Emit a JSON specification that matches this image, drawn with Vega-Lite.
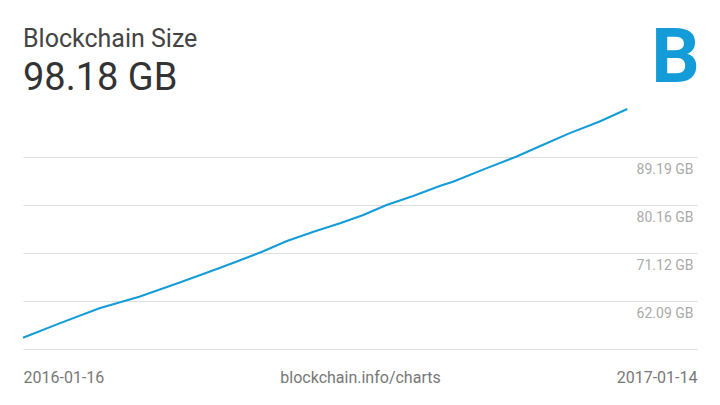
{
  "$schema": "https://vega.github.io/schema/vega-lite/v6.json",
  "autosize": {"type": "none"},
  "width": 674,
  "height": 240,
  "padding": {"left": 23, "right": 23, "top": 109, "bottom": 56},
  "background": "white",
  "config": {"view": {"stroke": null}},
  "title": {
    "text": "Blockchain Size",
    "subtitle": "98.18 GB",
    "anchor": "start",
    "frame": "group",
    "font": "Roboto",
    "fontSize": 25,
    "fontWeight": "normal",
    "color": "#444444",
    "subtitleFont": "Roboto",
    "subtitleFontSize": 38,
    "subtitleColor": "#333333",
    "subtitlePadding": 8,
    "offset": -77
  },
  "layer": [
    {
      "data": {
        "values": [
          {"date": "2016-01-16", "size": 55.18},
          {"date": "2016-02-07", "size": 57.89},
          {"date": "2016-03-02", "size": 60.71},
          {"date": "2016-03-26", "size": 62.89},
          {"date": "2016-04-19", "size": 65.52},
          {"date": "2016-05-13", "size": 68.23},
          {"date": "2016-05-25", "size": 69.66},
          {"date": "2016-06-08", "size": 71.35},
          {"date": "2016-06-23", "size": 73.36},
          {"date": "2016-07-09", "size": 75.11},
          {"date": "2016-07-25", "size": 76.69},
          {"date": "2016-08-08", "size": 78.25},
          {"date": "2016-08-22", "size": 80.13},
          {"date": "2016-09-07", "size": 81.82},
          {"date": "2016-09-23", "size": 83.70},
          {"date": "2016-10-01", "size": 84.51},
          {"date": "2016-10-21", "size": 87.03},
          {"date": "2016-11-08", "size": 89.21},
          {"date": "2016-11-24", "size": 91.41},
          {"date": "2016-12-10", "size": 93.61},
          {"date": "2016-12-28", "size": 95.79},
          {"date": "2017-01-14", "size": 98.18}
        ]
      },
      "mark": {"type": "line", "color": "#139cd8", "strokeWidth": 2},
      "encoding": {
        "x": {
          "field": "date",
          "type": "temporal",
          "scale": {
            "type": "utc",
            "domain": [
              {"year": 2016, "month": 1, "date": 16, "utc": true},
              {"year": 2017, "month": 2, "date": 25, "utc": true}
            ]
          },
          "axis": {
            "values": [
              {"year": 2016, "month": 1, "date": 16, "utc": true},
              {"year": 2017, "month": 2, "date": 25, "utc": true}
            ],
            "labelExpr": "datum.index == 0 ? '2016-01-16' : '2017-01-14'",
            "labelFlush": true,
            "labelOverlap": false,
            "domain": false,
            "ticks": false,
            "grid": false,
            "labelFont": "Roboto",
            "labelFontSize": 16,
            "labelColor": "#777777",
            "labelPadding": 20,
            "title": "blockchain.info/charts",
            "titleFont": "Roboto",
            "titleFontSize": 16,
            "titleFontWeight": "normal",
            "titleColor": "#777777",
            "titleBaseline": "top",
            "titleY": 20
          }
        },
        "y": {
          "field": "size",
          "type": "quantitative",
          "scale": {"domain": [53.06, 98.18], "zero": false, "nice": false},
          "axis": {
            "orient": "right",
            "values": [53.06, 62.09, 71.12, 80.16, 89.19],
            "domain": false,
            "ticks": false,
            "grid": true,
            "gridColor": "#dddddd",
            "gridWidth": 1,
            "labelAlign": "right",
            "labelBaseline": "middle",
            "labelPadding": -4,
            "labelOffset": 13,
            "labelFont": "Roboto",
            "labelFontSize": 14,
            "labelColor": "#aaaaaa",
            "labelOverlap": false,
            "labelExpr": "datum.value < 55 ? '' : format(datum.value, '.2f') + ' GB'",
            "title": null
          }
        }
      }
    },
    {
      "data": {"values": [{"logo": "B"}]},
      "mark": {
        "type": "text",
        "font": "Roboto",
        "fontWeight": "bold",
        "fontSize": 76,
        "color": "#139cd8",
        "align": "center",
        "baseline": "middle"
      },
      "encoding": {
        "text": {"field": "logo"},
        "x": {"datum": {"year": 2017, "month": 2, "date": 12, "utc": true}, "type": "temporal"},
        "y": {"datum": 107.54, "type": "quantitative"}
      }
    }
  ]
}
